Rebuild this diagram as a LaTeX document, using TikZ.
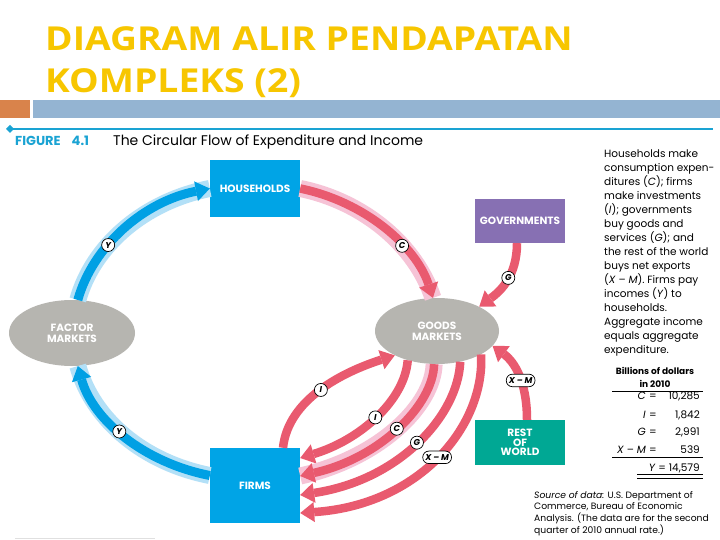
\documentclass[tikz,border=0pt]{standalone}
\usepackage{fontspec}
\newfontfamily\titlefont[FakeStretch=1.13]{Open Sans}
\newfontfamily\figfont[Ligatures=TeX]{Poppins}
\usetikzlibrary{arrows.meta,shapes.geometric}
\definecolor{ttl}{HTML}{F7C600}
\definecolor{orbar}{HTML}{D9834B}
\definecolor{blbar}{HTML}{94B4D2}
\definecolor{cyanl}{HTML}{1AA3D3}
\definecolor{bdark}{HTML}{00A0E4}
\definecolor{bband}{HTML}{B3E0F7}
\definecolor{rdark}{HTML}{E95A6F}
\definecolor{pband}{HTML}{F6C3D6}
\definecolor{greyell}{HTML}{B6B5B0}
\definecolor{hhblue}{HTML}{00A4E6}
\definecolor{govpurple}{HTML}{8770B3}
\definecolor{teal}{HTML}{00A894}
\begin{document}
\begin{tikzpicture}[x=1pt,y=-1pt,
  boxnode/.style={rectangle, inner sep=0pt, text=white, align=center,
    font=\figfont\bfseries\fontsize{10.5}{11}\selectfont},
  ellnode/.style={ellipse, fill=greyell, inner sep=0pt, text=white, align=center,
    font=\figfont\bfseries\fontsize{10.5}{11}\selectfont},
  bandb/.style={draw=bband, line width=17pt},
  bandp/.style={draw=pband, line width=17pt},
  arrb/.style={draw=bdark, line width=9pt, -{Triangle[length=14pt,width=20pt,line width=0pt]}},
  arrr/.style={draw=rdark, line width=8.5pt, -{Triangle[length=14pt,width=20pt,line width=0pt]}},
  lbl/.style={circle, draw=black, line width=0.7pt, fill=white, inner sep=0pt, minimum size=13pt,
    font=\figfont\bfseries\itshape\fontsize{8.5}{8.5}\selectfont},
  pill/.style={rectangle, rounded corners=6pt, draw=black, line width=0.7pt, fill=white, inner sep=2.5pt,
    minimum height=12.5pt, font=\figfont\bfseries\itshape\fontsize{8.5}{8.5}\selectfont},
  bodytxt/.style={inner sep=0pt, font=\figfont\fontsize{10.5}{14}\selectfont}
]
\useasboundingbox (0,0) rectangle (720,540);
\fill[white] (0,0) rectangle (720,540);

% title
\node[anchor=base west, inner sep=0pt, text=ttl, font=\titlefont\bfseries\fontsize{33}{33}\selectfont] (t1) at (45,51) {DIAGRAM ALIR PENDAPATAN};
\node[anchor=base west, inner sep=0pt, text=ttl, font=\titlefont\bfseries\fontsize{33}{33}\selectfont] (t2) at (45,93) {KOMPLEKS (2)};
\fill[orbar] (0,100) rectangle (30,118);
\fill[blbar] (33,100) rectangle (720,118);

% figure heading
\draw[cyanl, line width=2pt] (10,129) -- (713,129);
\fill[cyanl] (10,125) -- (14,129) -- (10,133) -- (6,129) -- cycle;
\node[anchor=base west, inner sep=0pt, text=cyanl, font=\figfont\bfseries\fontsize{13}{13}\selectfont] (fig) at (15,146) {FIGURE\hspace{11pt}4.1};
\node[anchor=base west, inner sep=0pt, font=\figfont\fontsize{14}{14}\selectfont] (cap) at (113,146) {The Circular Flow of Expenditure and Income};

% nodes
\node[boxnode, fill=hhblue, minimum width=90pt, minimum height=57pt] (hh) at (255,188.5) {HOUSEHOLDS};
\node[boxnode, fill=govpurple, minimum width=90pt, minimum height=44pt] (gov) at (520,221) {GOVERNMENTS};
\node[boxnode, fill=hhblue, minimum width=90pt, minimum height=75pt] (ff) at (255,485.5) {FIRMS};
\node[boxnode, fill=teal, minimum width=90pt, minimum height=45pt, font=\figfont\bfseries\fontsize{10.5}{9.5}\selectfont] (row) at (520,442.5) {REST\\OF\\WORLD};
\node[ellnode, minimum width=126pt, minimum height=66pt] (fm) at (72,333) {FACTOR\\MARKETS};
\node[ellnode, minimum width=124pt, minimum height=66pt] (gm) at (437,331) {GOODS\\MARKETS};

% Y: factor markets -> households
\draw[bandb] (fm.80) .. controls +(15,-54) and +(-66,13) .. (hh.west);
\draw[arrb] (fm.80) .. controls +(15,-54) and +(-66,13) .. (hh.west) node[lbl,pos=0.37] {Y};
% Y: firms -> factor markets
\draw[bandb] ([yshift=10pt]ff.west) .. controls +(-66,-13) and +(15,54) .. (fm.-80);
\draw[arrb] ([yshift=10pt]ff.west) .. controls +(-66,-13) and +(15,54) .. (fm.-80) node[lbl,pos=0.54] {Y};
% C: households -> goods markets
\draw[bandp] (hh.east) .. controls +(64,13) and +(-17,-52) .. (gm.97);
\draw[arrr] (hh.east) .. controls +(64,13) and +(-17,-52) .. (gm.97) node[lbl,pos=0.64] {C};
% G: governments -> goods markets
\draw[arrr] ([xshift=-3pt]gov.south) .. controls +(0,32) and +(22,-16) .. (gm.30) node[lbl,pos=0.45] {G};
% X-M: rest of world -> goods markets
\draw[arrr] ([xshift=7pt]row.north) .. controls +(0,-38) and +(22,16) .. (gm.-15) node[pill,pos=0.42] {X – M};
% I: firms -> goods markets
\draw[arrr] ([xshift=28pt]ff.north) .. controls +(5,-48) and +(-53,17) .. (gm.210) node[lbl,pos=0.5] {I};
% goods markets -> firms
\draw[arrr] (gm.225) .. controls +(-3,40) and +(60,-18) .. ([yshift=27.5pt]ff.east) node[lbl,pos=0.5] {I};
\draw[bandp] (gm.265) .. controls +(-1,41) and +(80,-18) .. ([yshift=9.5pt]ff.east);
\draw[arrr] (gm.265) .. controls +(-1,41) and +(80,-18) .. ([yshift=9.5pt]ff.east) node[lbl,pos=0.5] {C};
\draw[arrr] (gm.-53) .. controls +(-2,53) and +(100,-15) .. ([yshift=-9.5pt]ff.east) node[lbl,pos=0.5] {G};
\draw[arrr] (gm.-28) .. controls +(4,71) and +(120,-8) .. ([yshift=-27.5pt]ff.east) node[pill,pos=0.5] {X – M};

% right text
\node[bodytxt, anchor=north west, align=left] (desc) at (604,150) {Households make\\consumption expen-\\ditures (\textit{C}); firms\\make investments\\(\textit{I}); governments\\buy goods and\\services (\textit{G}); and\\the rest of the world\\buys net exports\\(\textit{X} – \textit{M}). Firms pay\\incomes (\textit{Y}) to\\households.\\Aggregate income\\equals aggregate\\expenditure.};

% table
\node[inner sep=0pt, anchor=base, align=center, font=\figfont\bfseries\fontsize{9}{12.5}\selectfont] (th) at (655,387) {Billions of dollars\\in 2010};
\draw[line width=0.8pt] (612,391) -- (703,391);
\draw[line width=0.8pt] (612,457) -- (703,457);
\draw[line width=0.8pt] (637,474.5) -- (703,474.5);
\draw[line width=0.8pt] (637,478.5) -- (703,478.5);
\node[bodytxt, anchor=base east] (c1) at (646,399) {\textit{C}};
\node[bodytxt, anchor=base] (c2) at (653,399) {=};
\node[bodytxt, anchor=base east] (c3) at (700,399) {10,285};
\node[bodytxt, anchor=base east] (i1) at (646,418) {\textit{I}};
\node[bodytxt, anchor=base] (i2) at (653,418) {=};
\node[bodytxt, anchor=base east] (i3) at (700,418) {1,842};
\node[bodytxt, anchor=base east] (g1) at (646,435) {\textit{G}};
\node[bodytxt, anchor=base] (g2) at (653,435) {=};
\node[bodytxt, anchor=base east] (g3) at (700,435) {2,991};
\node[bodytxt, anchor=base east] (x1) at (646,453) {\textit{X} – \textit{M}};
\node[bodytxt, anchor=base] (x2) at (653,453) {=};
\node[bodytxt, anchor=base east] (x3) at (700,453) {539};
\node[bodytxt, anchor=base east] (y1) at (700,471) {\textit{Y} = 14,579};

% source
\node[inner sep=0pt, anchor=north west, align=left, font=\figfont\fontsize{9.2}{11.7}\selectfont] (src) at (534,491) {\textit{Source of data:} U.S. Department of\\Commerce, Bureau of Economic\\Analysis. (The data are for the second\\quarter of 2010 annual rate.)};

\draw[black!12, line width=1pt] (15,538) -- (155,538);
\end{tikzpicture}
\end{document}
